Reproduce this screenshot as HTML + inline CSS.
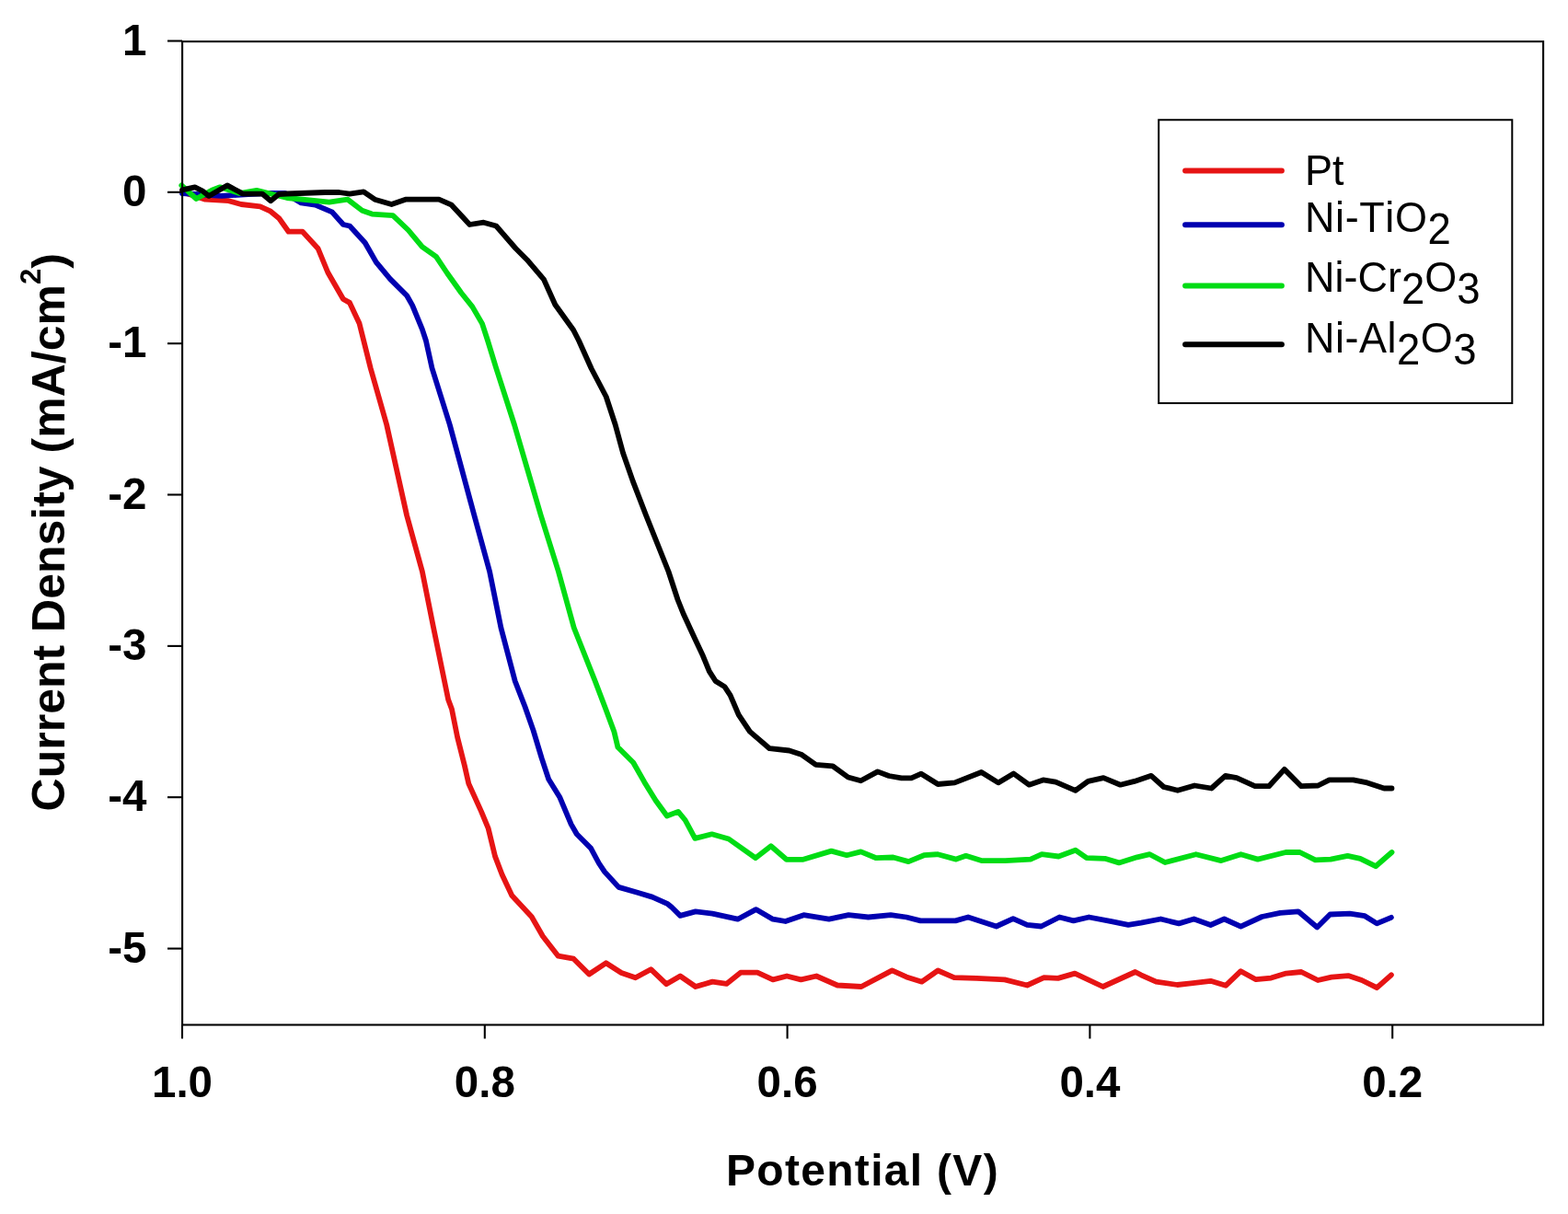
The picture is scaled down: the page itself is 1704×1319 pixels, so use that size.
<!DOCTYPE html>
<html><head><meta charset="utf-8"><title>Current Density vs Potential</title>
<style>html,body{margin:0;padding:0;background:#fff;}body{width:1704px;height:1319px;overflow:hidden;}svg{display:block;}text{font-kerning:none;}</style>
</head><body>
<svg width="1704" height="1319" viewBox="0 0 1704 1319">
<rect width="1704" height="1319" fill="#fff"/>
<g fill="none" stroke-width="5.8" stroke-linejoin="round" stroke-linecap="round">
<polyline stroke="#e61414" points="198.0,208.5 223.2,216.7 248.4,218.2 262.1,222.0 282.7,224.3 294.2,229.7 303.3,237.3 313.6,251.7 328.8,251.7 345.6,270.0 356.3,296.0 373.0,325.0 380.0,328.9 390.6,351.6 402.7,400.0 420.2,461.5 442.1,560.0 458.9,621.0 471.1,682.0 487.1,760.0 491.0,770.5 497.1,801.0 504.8,831.5 509.3,851.4 523.1,881.9 530.7,900.2 538.0,930.4 545.6,950.2 556.3,973.1 577.7,996.0 589.9,1017.3 606.6,1038.7 623.4,1041.7 640.2,1058.5 658.5,1046.3 675.3,1057.0 690.6,1062.3 707.3,1053.2 724.1,1069.2 739.2,1060.5 755.9,1072.0 774.2,1066.6 789.5,1068.9 804.8,1056.7 823.1,1056.7 839.9,1064.4 855.1,1060.5 870.4,1064.4 887.2,1060.5 910.0,1070.5 936.0,1072.0 969.5,1054.4 985.0,1061.4 1001.8,1066.7 1019.3,1054.5 1036.9,1062.1 1061.3,1062.9 1091.8,1064.4 1116.2,1070.5 1134.5,1062.1 1149.8,1062.9 1168.1,1057.6 1198.6,1072.0 1233.7,1056.0 1240.0,1059.3 1256.4,1066.7 1279.4,1070.0 1294.2,1068.3 1315.6,1065.8 1332.0,1070.8 1348.4,1055.2 1364.9,1064.2 1381.3,1062.6 1397.7,1057.6 1414.2,1056.0 1432.2,1065.0 1447.0,1061.7 1465.1,1060.1 1479.9,1065.0 1496.3,1073.2 1511.9,1059.3"/>
<polyline stroke="#0000b0" points="198.0,210.0 240.8,212.9 270.0,211.0 294.2,209.8 309.4,209.8 327.3,220.4 342.6,222.7 360.9,230.4 373.1,244.0 380.0,245.5 396.7,263.7 408.8,284.9 424.0,303.1 442.2,321.3 448.2,331.9 458.8,357.7 462.9,370.0 469.5,400.0 488.8,461.5 515.4,560.0 532.1,621.0 544.4,682.0 559.7,740.0 570.4,767.5 579.5,793.4 588.7,823.9 596.3,846.8 608.5,866.6 620.7,895.6 626.8,906.3 642.1,921.6 650.9,938.0 657.0,947.1 672.3,963.9 693.6,970.0 708.9,974.6 725.7,982.2 730.0,985.8 739.2,994.9 755.9,990.4 774.2,992.6 801.7,998.7 821.5,988.1 839.9,998.7 853.6,1001.0 873.4,994.2 900.9,998.7 922.2,994.2 943.6,996.5 968.0,994.2 985.0,996.5 1000.3,1000.4 1038.4,1000.4 1052.1,996.5 1082.7,1006.5 1101.0,998.1 1116.2,1004.9 1131.5,1006.5 1151.3,996.5 1166.6,1000.4 1183.4,996.5 1207.8,1001.1 1226.1,1004.9 1240.0,1002.6 1261.4,998.5 1281.1,1003.4 1297.5,998.5 1315.6,1005.0 1330.4,998.5 1348.4,1006.7 1371.4,996.0 1391.2,991.9 1410.9,990.3 1431.4,1007.5 1445.4,993.5 1466.8,992.7 1483.2,995.2 1496.3,1003.4 1511.9,996.8"/>
<polyline stroke="#00dc14" points="197.3,201.4 213.3,216.0 230.1,206.8 239.2,203.3 260.0,210.0 278.9,206.8 312.0,215.0 357.8,219.7 377.7,216.6 393.6,228.8 404.3,232.6 427.0,234.1 443.7,250.0 458.8,268.2 474.0,278.8 486.1,297.0 501.3,318.3 513.4,333.4 524.0,351.6 530.0,370.0 539.2,400.0 559.0,461.5 587.8,560.0 606.9,621.0 623.7,682.0 646.7,740.0 658.3,770.5 667.4,795.0 671.4,811.7 688.2,828.5 700.4,849.9 712.6,869.7 724.8,886.5 737.0,881.9 744.6,891.0 755.3,910.9 773.6,906.3 791.9,911.5 821.0,932.2 837.8,919.3 854.6,933.8 872.9,933.8 903.4,924.6 920.2,929.2 935.5,925.4 952.2,932.2 970.6,931.5 987.3,936.1 1004.1,929.2 1019.2,928.2 1039.0,933.6 1049.7,929.8 1066.5,935.1 1092.4,935.1 1119.9,933.6 1132.1,928.2 1150.4,930.5 1168.7,923.7 1180.9,932.1 1200.7,932.8 1216.0,937.4 1235.8,931.3 1249.5,928.2 1266.1,937.0 1299.7,928.2 1327.1,935.1 1348.5,928.2 1366.8,933.6 1397.3,926.0 1412.6,926.0 1429.4,934.4 1446.1,933.6 1464.5,929.8 1478.2,932.8 1495.0,941.2 1512.5,926.0"/>
<polyline stroke="#000000" points="198.0,206.4 211.8,203.3 220.2,207.5 227.0,212.9 246.9,201.4 259.8,208.3 263.6,210.6 285.0,210.6 294.2,218.2 303.0,211.0 312.0,210.5 353.3,209.0 368.5,209.0 380.0,210.6 395.2,208.3 407.3,216.7 425.5,222.0 440.7,216.7 477.0,216.7 490.7,222.7 510.4,244.0 525.6,241.7 539.2,245.5 560.5,270.0 572.7,282.2 591.0,303.6 603.3,331.0 623.1,358.5 629.0,370.0 642.7,400.5 658.7,431.0 668.7,461.5 677.0,492.0 687.7,522.6 702.1,560.0 714.3,590.5 726.5,621.0 736.5,651.5 742.6,666.8 753.2,689.7 763.9,712.6 770.8,729.4 777.6,740.0 787.5,746.1 793.6,755.3 802.7,776.6 814.9,794.9 836.3,813.2 857.7,815.5 871.4,820.1 886.6,830.8 905.0,832.3 921.7,844.5 935.5,848.3 953.8,838.4 966.0,843.0 979.7,845.3 990.4,845.3 1001.1,840.7 1019.2,852.0 1037.5,850.4 1066.5,839.0 1084.8,850.4 1101.5,840.5 1118.3,852.7 1133.6,847.4 1147.3,849.7 1168.7,858.8 1182.4,848.9 1199.2,845.1 1217.5,852.7 1232.8,848.9 1251.1,842.8 1264.6,855.0 1279.8,858.8 1298.1,853.5 1316.5,856.5 1331.7,842.8 1343.9,845.1 1363.8,854.2 1379.0,854.2 1395.8,835.9 1414.1,854.2 1432.4,853.5 1444.6,847.4 1470.6,847.4 1485.8,850.4 1504.1,856.5 1512.5,856.5"/>
</g>
<g stroke="#000" stroke-width="2.1" fill="none">
<rect x="198.1" y="45.1" width="1479" height="1068.4"/>
<line x1="182" y1="44.5" x2="198" y2="44.5"/>
<line x1="182" y1="208.8" x2="198" y2="208.8"/>
<line x1="182" y1="373.2" x2="198" y2="373.2"/>
<line x1="182" y1="537.5" x2="198" y2="537.5"/>
<line x1="182" y1="701.9" x2="198" y2="701.9"/>
<line x1="182" y1="866.2" x2="198" y2="866.2"/>
<line x1="182" y1="1030.6" x2="198" y2="1030.6"/>
<line x1="198.0" y1="1113.5" x2="198.0" y2="1128.5"/>
<line x1="526.8" y1="1113.5" x2="526.8" y2="1128.5"/>
<line x1="855.6" y1="1113.5" x2="855.6" y2="1128.5"/>
<line x1="1184.4" y1="1113.5" x2="1184.4" y2="1128.5"/>
<line x1="1513.2" y1="1113.5" x2="1513.2" y2="1128.5"/>
</g>
<g font-family="Liberation Sans, Arial, sans-serif" font-weight="bold" font-size="47.5" fill="#000" text-anchor="end">
<text x="159.5" y="59.5">1</text>
<text x="159.5" y="223.8">0</text>
<text x="159.5" y="388.2">-1</text>
<text x="159.5" y="552.5">-2</text>
<text x="159.5" y="716.9">-3</text>
<text x="159.5" y="881.2">-4</text>
<text x="159.5" y="1045.6">-5</text>
</g>
<g font-family="Liberation Sans, Arial, sans-serif" font-weight="bold" font-size="47.5" fill="#000" text-anchor="middle">
<text x="198.0" y="1192.2">1.0</text>
<text x="526.8" y="1192.2">0.8</text>
<text x="855.6" y="1192.2">0.6</text>
<text x="1184.4" y="1192.2">0.4</text>
<text x="1513.2" y="1192.2">0.2</text>
</g>
<text x="937.5" y="1288" font-family="Liberation Sans, Arial, sans-serif" font-weight="bold" font-size="48" letter-spacing="1.3" text-anchor="middle">Potential (V)</text>
<text transform="translate(70,578.3) rotate(-90)" x="0" y="0" font-family="Liberation Sans, Arial, sans-serif" font-weight="bold" font-size="50" text-anchor="middle">Current Density (mA/cm<tspan font-size="31" dy="-26">2</tspan><tspan dy="26">)</tspan></text>
<rect x="1259.2" y="130.25" width="384.1" height="307.8" fill="none" stroke="#000" stroke-width="2"/>
<g stroke-width="5.8" stroke-linecap="round">
<line x1="1288" y1="185.5" x2="1393" y2="185.5" stroke="#e61414"/>
<line x1="1288" y1="244.25" x2="1393" y2="244.25" stroke="#0000b0"/>
<line x1="1288" y1="310.5" x2="1393" y2="310.5" stroke="#00dc14"/>
<line x1="1288" y1="374.25" x2="1393" y2="374.25" stroke="#000000"/>
</g>
<g font-family="Liberation Sans, Arial, sans-serif" font-size="45" fill="#000">
<text transform="translate(1418,201) scale(1,1.045)" x="0" y="0" letter-spacing="0">Pt</text>
<text transform="translate(1418,252) scale(1,1.045)" x="0" y="0" letter-spacing="0.6">Ni-TiO<tspan font-size="45.5" dy="12.35">2</tspan></text>
<text transform="translate(1418,317.2) scale(1,1.045)" x="0" y="0" letter-spacing="0">Ni-Cr<tspan font-size="45.5" dy="12.35">2</tspan><tspan dy="-12.35">O</tspan><tspan font-size="45.5" dy="12.35">3</tspan></text>
<text transform="translate(1418,383.4) scale(1,1.045)" x="0" y="0" letter-spacing="0.5">Ni-Al<tspan font-size="45.5" dy="12.35">2</tspan><tspan dy="-12.35">O</tspan><tspan font-size="45.5" dy="12.35">3</tspan></text>
</g>
</svg>
</body></html>
